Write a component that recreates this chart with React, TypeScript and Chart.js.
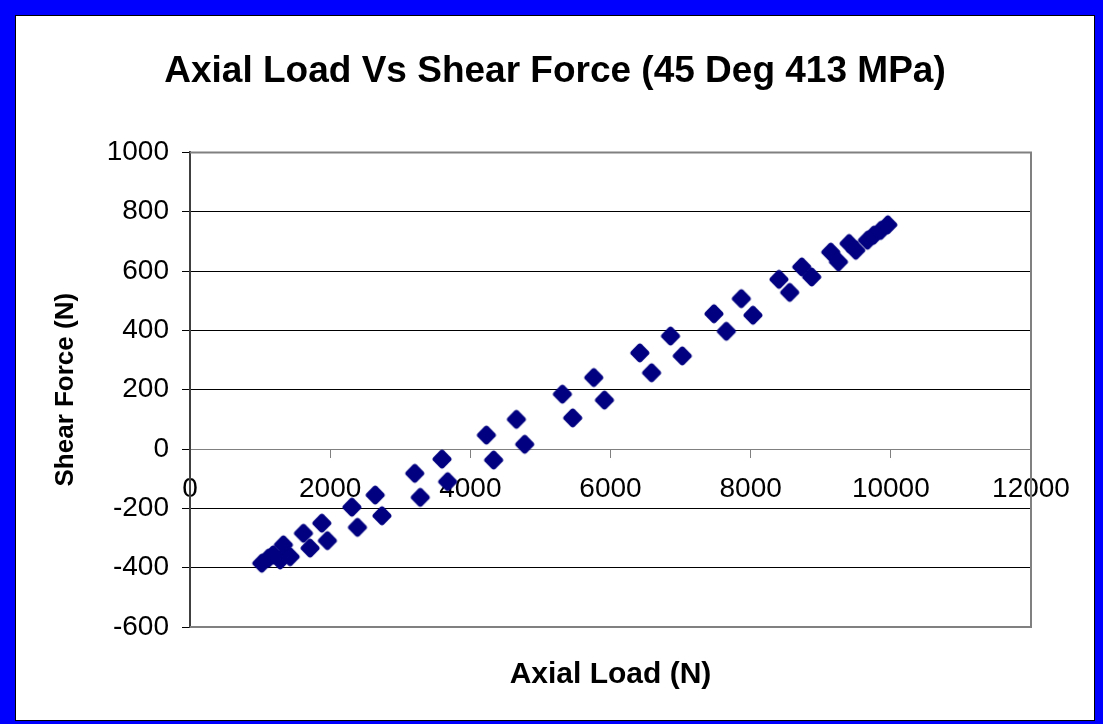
import React, { useEffect, useRef } from "react";
import { Chart, registerables } from "chart.js";

Chart.register(...registerables);

const chartTitle = "Axial Load Vs Shear Force (45 Deg 413 MPa)";
const xTitle = "Axial Load (N)";
const yTitle = "Shear Force (N)";

const axialLoad = [
  1024, 1119, 1186, 1286, 1333, 1429, 1619, 1714, 1881, 1961,
  2310, 2390, 2643, 2739, 3207, 3286, 3596, 3676, 4229, 4333,
  4657, 4776, 5314, 5461, 5761, 5914, 6419, 6586, 6857, 7024,
  7476, 7653, 7867, 8033, 8404, 8557, 8729, 8871, 9143, 9253,
  9404, 9500, 9667, 9757, 9857, 9957,
];
const shearForce = [
  -385, -368, -357, -374, -323, -363, -284, -334, -250, -309,
  -196, -264, -155, -225, -82, -163, -34, -110, 47, -37,
  100, 16, 185, 105, 241, 165, 324, 257, 381, 314,
  456, 397, 507, 451, 572, 528, 614, 580, 664, 631,
  693, 670, 704, 721, 737, 756,
];

const xTicks = [0, 2000, 4000, 6000, 8000, 10000, 12000];
const yTicks = [-600, -400, -200, 0, 200, 400, 600, 800, 1000];

const FONT = "'Liberation Sans', Arial, Helvetica, sans-serif";
const MARKER_COLOR = "#000080";

function makeDiamond(): HTMLCanvasElement {
  const c = document.createElement("canvas");
  c.width = 24;
  c.height = 24;
  const g = c.getContext("2d")!;
  g.translate(12, 12);
  g.rotate(Math.PI / 4);
  const s = 15;
  const r = 3;
  const h = s / 2;
  g.beginPath();
  g.moveTo(-h + r, -h);
  g.arcTo(h, -h, h, h, r);
  g.arcTo(h, h, -h, h, r);
  g.arcTo(-h, h, -h, -h, r);
  g.arcTo(-h, -h, h, -h, r);
  g.closePath();
  g.fillStyle = MARKER_COLOR;
  g.fill();
  return c;
}

export default function App() {
  const ref = useRef<HTMLCanvasElement | null>(null);

  useEffect(() => {
    const canvas = ref.current;
    if (!canvas) return;

    const plotBorder = {
      id: "plotBorder",
      beforeDatasetsDraw(chart: any) {
        const { ctx, chartArea: a } = chart;
        ctx.save();
        ctx.strokeStyle = "#808080";
        ctx.lineWidth = 2;
        ctx.beginPath();
        ctx.moveTo(a.left, a.top);
        ctx.lineTo(a.right, a.top);
        ctx.lineTo(a.right, a.bottom);
        ctx.lineTo(a.left, a.bottom);
        ctx.stroke();
        ctx.restore();
      },
    };

    const points = axialLoad.map((x, i) => ({ x, y: shearForce[i] }));
    const diamond = makeDiamond();

    const chart = new Chart(canvas, {
      type: "scatter",
      data: {
        datasets: [
          {
            data: points,
            pointStyle: diamond as any,
            pointRadius: 10,
            pointHoverRadius: 10,
            backgroundColor: MARKER_COLOR,
            borderColor: MARKER_COLOR,
            borderWidth: 0,
            xAxisID: "x",
            yAxisID: "y",
          },
        ],
      },
      plugins: [plotBorder],
      options: {
        animation: false,
        responsive: false,
        maintainAspectRatio: false,
        devicePixelRatio: 1,
        layout: { padding: { left: 0, right: 0, top: 0, bottom: 0 } },
        plugins: {
          legend: { display: false },
          tooltip: { enabled: false },
          title: {
            display: true,
            text: chartTitle,
            color: "#000",
            font: { family: FONT, size: 37, weight: "bold", lineHeight: 1.2 },
            padding: { top: 34, bottom: 58 },
          },
        },
        scales: {
          x: {
            type: "linear",
            position: { y: 0 } as any,
            min: 0,
            max: 12000,
            afterBuildTicks: (s: any) => {
              s.ticks = xTicks.map((v) => ({ value: v }));
            },
            ticks: {
              color: "#000",
              font: { family: FONT, size: 28, lineHeight: 1.2 },
              padding: 15,
              maxRotation: 0,
              autoSkip: false,
              callback: (v: any) => String(v),
            },
            grid: {
              display: true,
              drawOnChartArea: false,
              drawTicks: true,
              tickLength: 8,
              color: "#808080",
              tickColor: "#808080",
            },
            border: { display: true, color: "#808080", width: 1 },
          },
          x2: {
            type: "linear",
            position: "bottom",
            min: 0,
            max: 1,
            ticks: { display: false },
            grid: { display: false },
            border: { display: false },
            title: {
              display: true,
              text: xTitle,
              color: "#000",
              font: { family: FONT, size: 30, weight: "bold", lineHeight: 1.2 },
              padding: { top: 0, bottom: 27 },
            },
            afterFit: (s: any) => {
              s.height = 93;
            },
          },
          y2: {
            type: "linear",
            position: "right",
            min: 0,
            max: 1,
            ticks: { display: false },
            grid: { display: false },
            border: { display: false },
            afterFit: (s: any) => {
              s.width = 63;
            },
          },
          y: {
            type: "linear",
            position: "left",
            min: -600,
            max: 1000,
            afterBuildTicks: (s: any) => {
              s.ticks = yTicks.map((v) => ({ value: v }));
            },
            afterFit: (s: any) => {
              s.width = 174;
            },
            ticks: {
              color: "#000",
              font: { family: FONT, size: 28, lineHeight: 1.2 },
              padding: 13,
              callback: (v: any) => String(v),
            },
            grid: {
              display: true,
              drawOnChartArea: true,
              drawTicks: true,
              tickLength: 8,
              color: (c: any) =>
                c.tick && (c.tick.value === 1000 || c.tick.value === -600 || c.tick.value === 0)
                  ? "#808080"
                  : "#000000",
              lineWidth: 1,
              tickColor: "#000",
            },
            border: { display: true, color: "#404040", width: 2 },
            title: {
              display: true,
              text: yTitle,
              color: "#000",
              font: { family: FONT, size: 26, weight: "bold", lineHeight: 1.2 },
              padding: { top: 34, bottom: 0 },
            },
          },
        },
      } as any,
    });

    return () => {
      chart.destroy();
    };
  }, []);

  return (
    <div
      style={{
        position: "absolute",
        left: 0,
        top: 0,
        width: 1103,
        height: 724,
        background: "#0000ff",
      }}
    >
      <div
        style={{
          position: "absolute",
          left: 15,
          top: 15,
          width: 1080,
          height: 706,
          background: "#ffffff",
          border: "1px solid #000",
          boxSizing: "border-box",
        }}
      >
        <canvas
          ref={ref}
          width={1078}
          height={704}
          style={{ display: "block", width: 1078, height: 704 }}
        />
      </div>
    </div>
  );
}
